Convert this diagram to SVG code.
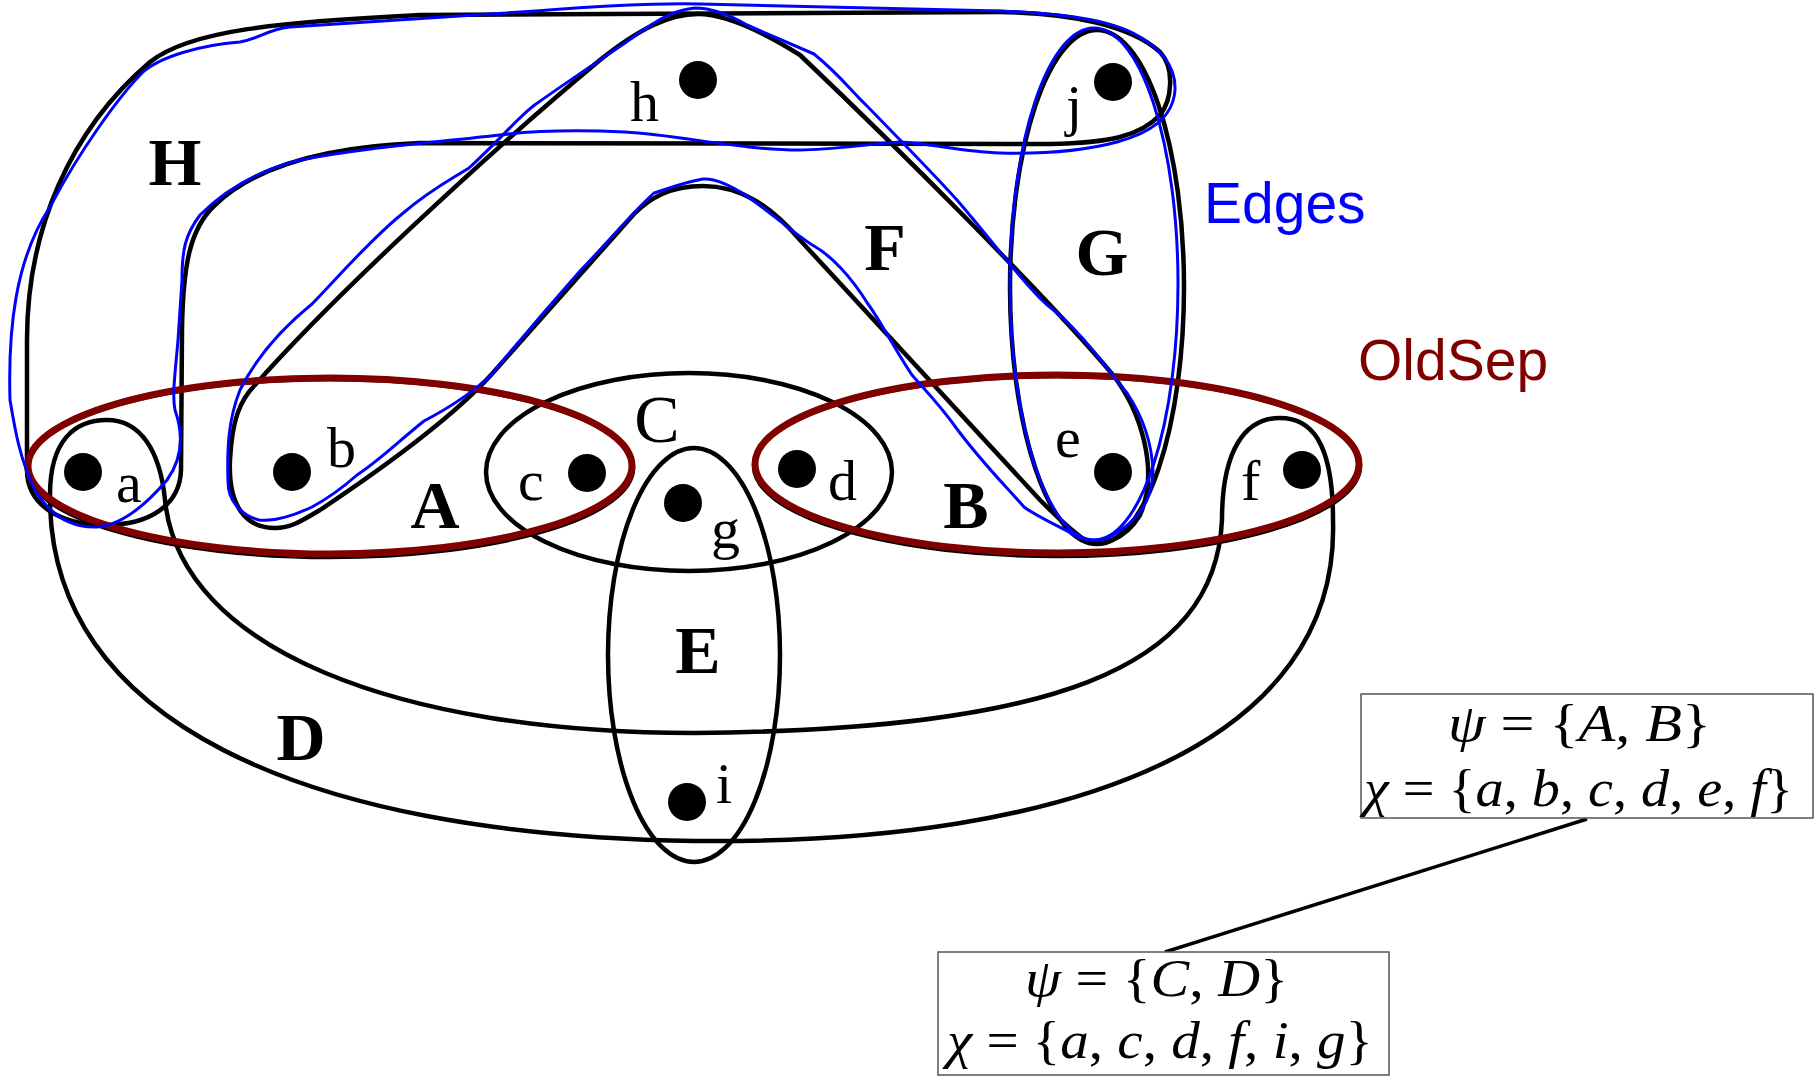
<svg xmlns="http://www.w3.org/2000/svg" width="1815" height="1081" viewBox="0 0 1815 1081">
<style>
.edge{fill:none;stroke:#000;stroke-width:4.5;stroke-linejoin:round}
.sep{fill:none;stroke:#800000;stroke-width:7}
.hl{fill:none;stroke:#0000ff;stroke-width:3;stroke-linejoin:round}
.dot{fill:#000}
.vl{font-family:"Liberation Serif","Times New Roman",serif;font-size:58px;fill:#000}
.el{font-family:"Liberation Serif","Times New Roman",serif;font-size:68px;font-weight:bold;fill:#000;text-anchor:middle}
.reg{font-weight:normal}
.sans{font-family:"Liberation Sans",Arial,sans-serif;font-size:57px}
.math{font-family:"Liberation Serif","Times New Roman",serif;font-size:52px;fill:#000}
.it{font-style:italic}
.box{fill:#fff;stroke:#555;stroke-width:1.5}
</style>
<rect width="1815" height="1081" fill="#fff"/>
<g id="hyperedges">
  <g id="edge-H">
    <path class="edge" d="M 27,470 L 27,340 C 27,230 70,130 150,62 C 190,30 280,22 420,15 L 1000,12 C 1070,13 1130,25 1160,52 C 1175,68 1172,100 1160,115 C 1140,136 1110,143 1050,144 L 420,143 C 340,146 260,162 215,205 C 190,228 183,265 182,330 L 181,470 C 180,505 150,525 105,525 C 60,525 27,505 27,470 Z"/>
    <text class="el" x="175" y="185">H</text>
  </g>
  <g id="edge-D">
    <path class="edge" d="M 50,495 C 48,720 300,835 694,841 C 1080,845 1340,740 1333,520 C 1333,440 1310,418 1280,418 C 1245,418 1222,450 1222,520 C 1215,670 1050,730 694,733 C 400,733 180,650 165,500 C 160,450 140,420 107,420 C 75,420 50,440 50,495 Z"/>
    <text class="el" x="301" y="760">D</text>
  </g>
  <g id="edge-F">
    <path class="edge" d="M 275,528 C 245,528 228,505 230,460 C 232,420 240,400 255,385 C 330,300 480,160 600,60 C 640,28 670,14 698,14 C 725,14 760,30 800,55 C 900,150 1050,300 1113,375 C 1140,410 1160,470 1140,515 C 1125,540 1100,548 1085,540 C 1070,530 1055,515 1040,500 L 800,240 C 770,205 740,186 703,186 C 670,186 650,198 634,214 L 491,375 C 450,420 380,470 320,510 C 300,522 290,528 275,528 Z"/>
    <text class="el" x="885" y="270">F</text>
  </g>
  <g id="edge-G">
    <ellipse class="edge" cx="1097" cy="287" rx="87" ry="257"/>
    <text class="el" x="1102" y="275">G</text>
  </g>
  <g id="edge-C">
    <ellipse class="edge" cx="689" cy="472" rx="203" ry="99"/>
    <text class="el reg" x="657" y="442">C</text>
  </g>
  <g id="edge-E">
    <ellipse class="edge" cx="694" cy="655" rx="86" ry="207"/>
    <text class="el" x="698" y="673">E</text>
  </g>
  <g id="edge-A">
    <ellipse class="edge" cx="330" cy="468" rx="303" ry="89"/>
    <text class="el" x="435" y="528">A</text>
  </g>
  <g id="edge-B">
    <ellipse class="edge" cx="1057" cy="466" rx="303" ry="90"/>
    <text class="el" x="966" y="528">B</text>
  </g>
</g>
<g id="vertices">
  <g id="v-a"><circle class="dot" cx="83" cy="472" r="19"/><text class="vl" x="116" y="502">a</text></g>
  <g id="v-b"><circle class="dot" cx="292" cy="472" r="19"/><text class="vl" x="327" y="467">b</text></g>
  <g id="v-c"><circle class="dot" cx="587" cy="473" r="19"/><text class="vl" x="518" y="500">c</text></g>
  <g id="v-d"><circle class="dot" cx="797" cy="469" r="19"/><text class="vl" x="828" y="500">d</text></g>
  <g id="v-e"><circle class="dot" cx="1113" cy="472" r="19"/><text class="vl" x="1055" y="457">e</text></g>
  <g id="v-f"><circle class="dot" cx="1302" cy="470" r="19"/><text class="vl" x="1241" y="500">f</text></g>
  <g id="v-g"><circle class="dot" cx="683" cy="503" r="19"/><text class="vl" x="711" y="548">g</text></g>
  <g id="v-h"><circle class="dot" cx="698" cy="80" r="19"/><text class="vl" x="630" y="121">h</text></g>
  <g id="v-i"><circle class="dot" cx="687" cy="802" r="19"/><text class="vl" x="716" y="803">i</text></g>
  <g id="v-j"><circle class="dot" cx="1113" cy="82" r="19"/><text class="vl" x="1066" y="125">j</text></g>
</g>
<g id="oldsep">
  <ellipse class="sep" cx="330" cy="466" rx="302" ry="88"/>
  <ellipse class="sep" cx="1057" cy="464" rx="302" ry="89"/>
  <text class="sans" x="1358" y="380" fill="#800000">OldSep</text>
</g>
<g id="edges-highlight">
  <path class="hl" d="M 10,400 C 8,330 15,260 50,207 C 80,150 120,95 143,72 C 160,57 200,45 240,42 C 262,38 265,30 290,27 L 536,11 C 600,6 660,3 700,4 L 1000,11 C 1050,13 1100,17 1133,33 C 1160,47 1176,65 1175,90 C 1173,118 1150,133 1117,142 C 1080,152 1040,154 1000,153 C 960,152 930,143 900,142 C 860,145 830,150 800,150 C 740,150 680,135 625,132 C 580,130 540,130 500,135 C 430,143 360,148 300,160 C 260,170 225,190 200,215 C 185,235 182,250 182,280 L 178,340 C 175,375 172,395 175,410 C 182,430 185,455 167,480 C 150,500 125,525 97,527 C 70,528 50,515 35,490 C 20,460 15,430 10,400 Z"/>
  <path class="hl" d="M 259,520 C 240,515 228,500 228,482 C 227,450 228,420 240,390 C 255,360 280,330 312,304 C 340,275 370,240 402,214 C 430,190 450,180 469,168 C 500,140 520,115 536,104 C 570,80 600,60 625,43 C 650,25 670,10 695,8 C 715,8 735,18 747,25 C 770,35 800,48 814,54 C 840,75 850,90 868,107 C 900,140 930,170 957,200 C 1000,250 1020,280 1046,304 C 1080,330 1100,360 1127,393 C 1145,420 1152,446 1153,471 C 1152,500 1140,520 1110,537 C 1095,543 1080,540 1069,532 C 1050,522 1035,515 1024,507 C 1000,480 980,460 957,429 C 940,405 925,390 912,375 C 895,350 880,320 868,304 C 850,275 830,255 814,246 C 800,238 780,220 747,196 C 730,185 715,178 703,179 C 680,183 665,190 654,193 C 630,215 610,240 580,271 C 550,305 520,340 491,375 C 470,395 445,410 424,421 C 400,440 380,460 357,475 C 340,490 325,500 312,507 C 295,515 275,522 259,520 Z"/>
  <ellipse class="hl" cx="1094" cy="284" rx="84" ry="256"/>
  <text class="sans" x="1204" y="223" fill="#0000ff">Edges</text>
</g>
<g id="connectors">
  <line x1="1587" y1="819" x2="1165" y2="952" stroke="#000" stroke-width="3.5"/>
</g>
<g id="box-1">
  <rect class="box" x="1361" y="694" width="452" height="124"/>
  <text class="math" x="1448" y="741" textLength="263" lengthAdjust="spacingAndGlyphs"><tspan class="it">ψ</tspan> = {<tspan class="it">A</tspan>, <tspan class="it">B</tspan>}</text>
  <text class="math" x="1364" y="806" textLength="429" lengthAdjust="spacingAndGlyphs"><tspan class="it">χ</tspan> = {<tspan class="it">a</tspan>, <tspan class="it">b</tspan>, <tspan class="it">c</tspan>, <tspan class="it">d</tspan>, <tspan class="it">e</tspan>, <tspan class="it">f</tspan>}</text>
</g>
<g id="box-2">
  <rect class="box" x="938" y="952" width="451" height="123"/>
  <text class="math" x="1025" y="996" textLength="263" lengthAdjust="spacingAndGlyphs"><tspan class="it">ψ</tspan> = {<tspan class="it">C</tspan>, <tspan class="it">D</tspan>}</text>
  <text class="math" x="947" y="1058" textLength="426" lengthAdjust="spacingAndGlyphs"><tspan class="it">χ</tspan> = {<tspan class="it">a</tspan>, <tspan class="it">c</tspan>, <tspan class="it">d</tspan>, <tspan class="it">f</tspan>, <tspan class="it">i</tspan>, <tspan class="it">g</tspan>}</text>
</g>
</svg>
